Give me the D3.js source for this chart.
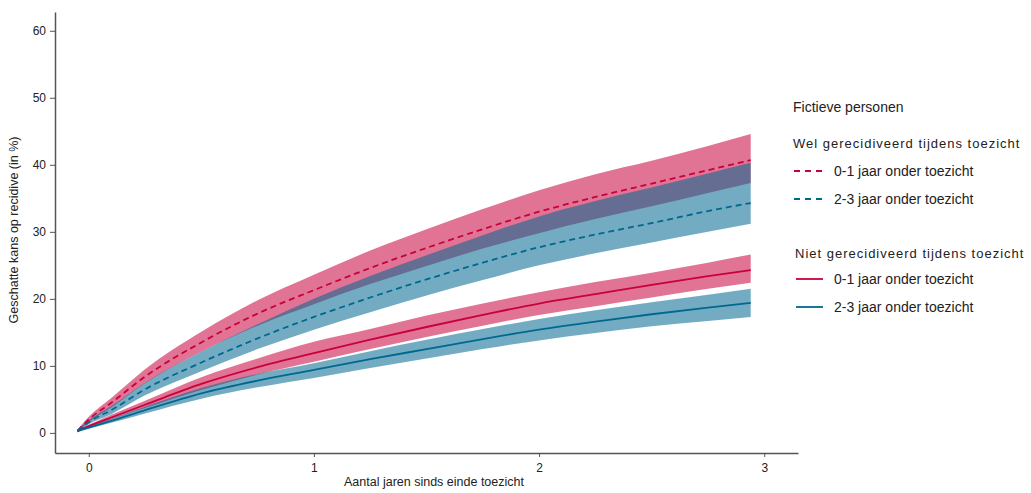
<!DOCTYPE html>
<html><head><meta charset="utf-8">
<script src="https://cdn.jsdelivr.net/npm/d3@7"></script>
<style>
body{margin:0;background:#fff;}
text{font-family:"Liberation Sans",Arial,sans-serif;}
</style></head>
<body><svg id="c" width="1031" height="493"></svg>
<script>
const times = [-0.05,0,0.1,0.25,0.5,0.75,1,1.25,1.5,1.75,2,2.25,2.5,2.75,2.94];
const welShortMid = [0.3,2.0,4.5,8.4,13.5,17.8,21.3,24.6,27.6,30.4,33.0,35.2,37.2,39.2,40.7];
const welShortLo  = [0.1,1.6,3.8,7.4,12.1,16.0,19.2,22.2,24.9,27.5,29.8,31.9,33.8,35.8,37.3];
const welShortHi  = [0.5,2.4,5.2,9.5,15.1,19.8,23.6,27.2,30.4,33.4,36.2,38.6,40.6,42.8,44.6];
const welLongMid  = [0.3,1.6,3.4,6.5,10.5,14.1,17.3,20.2,22.9,25.4,27.7,29.6,31.3,33.1,34.3];
const welLongLo   = [0.1,1.3,2.8,5.6,9.2,12.5,15.4,18.0,20.5,22.8,25.0,26.8,28.4,30.0,31.2];
const welLongHi   = [0.5,1.9,4.0,7.5,12.1,16.2,20.0,23.4,26.5,29.5,32.3,34.6,36.6,38.7,40.3];
const nietShortMid= [0.3,1.0,2.3,4.2,7.3,9.8,11.9,13.9,15.8,17.6,19.3,20.7,22.1,23.4,24.3];
const nietShortLo = [0.1,0.8,2.0,3.7,6.4,8.7,10.6,12.5,14.3,16.0,17.6,18.9,20.2,21.5,22.4];
const nietShortHi = [0.4,1.2,2.7,4.8,8.3,11.1,13.6,15.5,17.5,19.3,21.0,22.5,23.9,25.4,26.6];
const nietLongMid = [0.3,0.8,1.8,3.4,5.9,7.8,9.4,11.0,12.5,14.0,15.4,16.6,17.7,18.7,19.4];
const nietLongLo  = [0.1,0.6,1.5,2.9,5.1,6.8,8.2,9.7,11.1,12.5,13.8,14.9,15.9,16.7,17.3];
const nietLongHi  = [0.4,1.0,2.1,3.9,6.7,8.8,10.4,12.2,13.9,15.5,17.0,18.3,19.5,20.6,21.5];
const xTicks = [0,1,2,3];
const yTicks = [0,10,20,30,40,50,60];
const legendTitle = "Fictieve personen";
const groupTitles = ["Wel gerecidiveerd tijdens toezicht","Niet gerecidiveerd tijdens toezicht"];
const seriesLabels = ["0-1 jaar onder toezicht","2-3 jaar onder toezicht"];

const RED = "#c8003c", BLUE = "#00688f";
const svg = d3.select("#c");
const x = d3.scaleLinear().domain([-0.15,3.15]).range([55,798]);
const y = d3.scaleLinear().domain([-3,62.8]).range([453,12]);

const series = [
  {mid:welShortMid, lo:welShortLo, hi:welShortHi, color:RED, dash:true},
  {mid:nietShortMid, lo:nietShortLo, hi:nietShortHi, color:RED, dash:false},
  {mid:welLongMid, lo:welLongLo, hi:welLongHi, color:BLUE, dash:true},
  {mid:nietLongMid, lo:nietLongLo, hi:nietLongHi, color:BLUE, dash:false}
];
const area = d3.area().curve(d3.curveMonotoneX)
  .x(d=>x(d.t)).y0(d=>y(d.lo)).y1(d=>y(d.hi));
const line = d3.line().curve(d3.curveMonotoneX).x(d=>x(d.t)).y(d=>y(d.v));

series.forEach(s=>{
  const pts = times.map((t,i)=>({t, lo:s.lo[i], hi:s.hi[i]}));
  svg.append("path").attr("d",area(pts)).attr("fill",s.color).attr("fill-opacity",0.55);
});
series.forEach(s=>{
  const pts = times.map((t,i)=>({t, v:s.mid[i]}));
  svg.append("path").attr("d",line(pts)).attr("fill","none").attr("stroke",s.color)
    .attr("stroke-width",1.8).attr("stroke-dasharray",s.dash?"6,4":null);
});

// axes
const gx = svg.append("g").attr("transform",`translate(0,${y(-3)})`)
  .call(d3.axisBottom(x).tickValues(xTicks).tickSize(4).tickSizeOuter(0).tickPadding(6).tickFormat(d3.format("d")));
const gy = svg.append("g").attr("transform",`translate(${x(-0.15)},0)`)
  .call(d3.axisLeft(y).tickValues(yTicks).tickSize(5).tickSizeOuter(0).tickPadding(4).tickFormat(d3.format("d")));
[gx,gy].forEach(g=>{
  g.select(".domain").attr("stroke","#555").attr("stroke-width",1.5);
  g.selectAll(".tick line").attr("stroke","#555");
  g.selectAll(".tick text").attr("fill","#222").style("font-size","12px").style("font-family","'Liberation Sans',Arial,sans-serif");
});

svg.append("text").attr("x",434).attr("y",486).attr("text-anchor","middle")
  .attr("fill","#222").style("font-size","12.5px").text("Aantal jaren sinds einde toezicht");
svg.append("text").attr("transform","translate(18,230) rotate(-90)").attr("text-anchor","middle")
  .attr("fill","#222").style("font-size","12.5px").text("Geschatte kans op recidive (in %)");

// legend
const lg = svg.append("g");
lg.append("text").attr("x",793).attr("y",112).attr("fill","#222").style("font-size","14px").text(legendTitle);
const groups = [{title:groupTitles[0], ty:148, dash:true, ly:[171,199]},
                {title:groupTitles[1], ty:258, dash:false, ly:[279,307]}];
groups.forEach(g=>{
  lg.append("text").attr("x",g.dash?793:795).attr("y",g.ty).attr("fill","#222")
    .style("font-size","13px").style("letter-spacing","1px").text(g.title);
  [RED,BLUE].forEach((c,i)=>{
    lg.append("line").attr("x1",g.dash?794:796).attr("x2",g.dash?822:823)
      .attr("y1",g.ly[i]).attr("y2",g.ly[i]).attr("stroke",c).attr("stroke-width",1.8)
      .attr("stroke-dasharray",g.dash?"6,5":null);
    lg.append("text").attr("x",834).attr("y",g.ly[i]+5).attr("fill","#222")
      .style("font-size","14px").text(seriesLabels[i]);
  });
});
</script></body></html>
